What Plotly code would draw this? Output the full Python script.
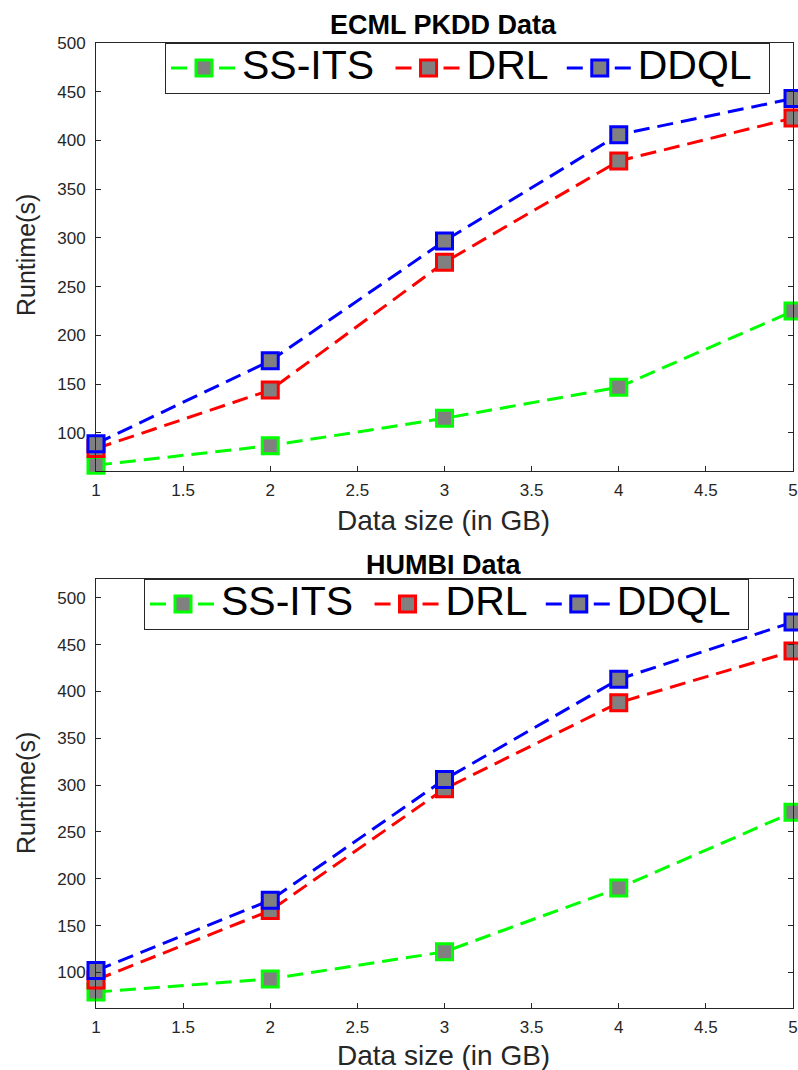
import plotly.graph_objects as go

x_sizes = [1, 2, 3, 4, 5]
series_names = ["SS-ITS", "DRL", "DDQL"]
colors = ["#00ff00", "#ff0000", "#0000ff"]

ecml_ssits = [67, 87, 115, 147, 225]
ecml_drl = [84, 144, 275, 379, 423]
ecml_ddql = [89, 174, 297, 406, 443]

humbi_ssits = [79, 93, 122, 190, 271]
humbi_drl = [92, 166, 296, 388, 443]
humbi_ddql = [102, 177, 306, 413, 474]

x_ticks = [1, 1.5, 2, 2.5, 3, 3.5, 4, 4.5, 5]
x_ticktext = ["1", "1.5", "2", "2.5", "3", "3.5", "4", "4.5", "5"]
y_ticks = [100, 150, 200, 250, 300, 350, 400, 450, 500]

W, H = 798, 1070
fig = go.Figure()

def py(pix):
    return 1 - pix / H

name_pad = {"SS-ITS": "&nbsp;", "DRL": "&#8201;", "DDQL": "&nbsp;"}

def add_series(vals_list, xaxis, yaxis, legend):
    for name, vals, c in zip(series_names, vals_list, colors):
        fig.add_trace(go.Scatter(
            x=x_sizes, y=vals, mode="lines+markers",
            name='<span style="font-size:41px">' + name + name_pad[name] + '</span>',
            xaxis=xaxis, yaxis=yaxis, legend=legend,
            line=dict(color=c, width=3, dash="16px,8px"),
            marker=dict(symbol="square", size=16, color="#808080",
                        line=dict(color=c, width=3)),
            cliponaxis=False,
        ))

add_series([ecml_ssits, ecml_drl, ecml_ddql], "x", "y", "legend")
add_series([humbi_ssits, humbi_drl, humbi_ddql], "x2", "y2", "legend2")

tick_font = dict(family="Liberation Sans, Arial", size=17, color="#262626")
axis_common = dict(
    showline=True, mirror="ticks", linecolor="#262626", linewidth=1,
    ticks="inside", ticklen=5, tickcolor="#262626", showgrid=False,
    zeroline=False, automargin=False, tickfont=tick_font,
)
xd = [96 / W, 793 / W]

legend_common = dict(
    orientation="h", xanchor="left", yanchor="top",
    bgcolor="white", bordercolor="#262626", borderwidth=1,
    font=dict(family="Liberation Sans, Arial", size=27, color="black"),
    itemwidth=66, tracegroupgap=0,
)

fig.update_layout(
    width=W, height=H,
    template="none",
    margin=dict(l=0, r=0, t=0, b=0, pad=0, autoexpand=False),
    paper_bgcolor="white", plot_bgcolor="white",
    font=dict(family="Liberation Sans, Arial", color="#262626"),
    xaxis=dict(domain=xd, range=[1, 5], tickvals=x_ticks, ticktext=x_ticktext,
               anchor="y", ticklabelstandoff=4, **axis_common),
    yaxis=dict(domain=[py(471), py(43)], range=[61, 500], tickvals=y_ticks,
               anchor="x", ticklabelstandoff=6, **axis_common),
    xaxis2=dict(domain=xd, range=[1, 5], tickvals=x_ticks, ticktext=x_ticktext,
                anchor="y2", ticklabelstandoff=4, **axis_common),
    yaxis2=dict(domain=[py(1008), py(579)], range=[62, 520], tickvals=y_ticks,
                anchor="x2", ticklabelstandoff=6, **axis_common),
    legend=dict(x=165 / W, y=py(43), **legend_common),
    legend2=dict(x=144 / W, y=py(579), **legend_common),
    showlegend=True,
)

annos = [
    dict(text="<b>ECML PKDD Data</b>", x=443 / W, y=py(25), size=27, angle=0, color="black"),
    dict(text="<b>HUMBI Data</b>", x=443 / W, y=py(565), size=27, angle=0, color="black"),
    dict(text="Data size (in GB)", x=443 / W, y=py(520), size=28, angle=0, color="#262626"),
    dict(text="Data size (in GB)", x=443 / W, y=py(1055), size=28, angle=0, color="#262626"),
    dict(text="Runtime(s)", x=26 / W, y=py(255), size=25, angle=-90, color="#262626"),
    dict(text="Runtime(s)", x=26 / W, y=py(793), size=25, angle=-90, color="#262626"),
]
for a in annos:
    fig.add_annotation(text=a["text"], x=a["x"], y=a["y"], xref="paper", yref="paper",
                       showarrow=False, textangle=a["angle"], xanchor="center", yanchor="middle",
                       font=dict(family="Liberation Sans, Arial", size=a["size"], color=a["color"]))

fig.write_html("out.html")
